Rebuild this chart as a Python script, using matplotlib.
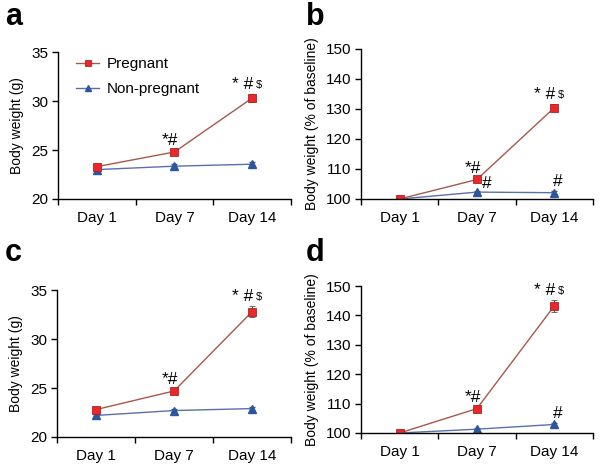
import matplotlib
matplotlib.use("Agg")
import matplotlib.pyplot as plt
from matplotlib.lines import Line2D

plt.rcParams["font.family"] = ["Liberation Sans", "DejaVu Sans"]

days = ["Day 1", "Day 7", "Day 14"]

# panel a: body weight (g)
a_preg = [23.3, 24.8, 30.3]
a_preg_err = [0.2, 0.2, 0.4]
a_non = [23.0, 23.35, 23.55]
a_non_err = [0.15, 0.2, 0.2]

# panel b: % of baseline
b_preg = [100.0, 106.5, 130.4]
b_preg_err = [0.3, 0.5, 1.2]
b_non = [100.0, 102.3, 102.1]
b_non_err = [0.2, 0.4, 0.4]

# panel c: body weight (g)
c_preg = [22.8, 24.7, 32.8]
c_preg_err = [0.2, 0.2, 0.6]
c_non = [22.2, 22.7, 22.9]
c_non_err = [0.15, 0.15, 0.2]

# panel d: % of baseline
d_preg = [100.0, 108.3, 143.2]
d_preg_err = [0.3, 0.6, 2.0]
d_non = [100.0, 101.3, 102.9]
d_non_err = [0.2, 0.3, 0.4]

# significance marks: (series, index, text)
a_marks = [("p", 1, "*#"), ("p", 2, "*#$")]
b_marks = [("p", 1, "*#"), ("p", 2, "*#$"), ("n", 1, "#r"), ("n", 2, "#")]
c_marks = [("p", 1, "*#"), ("p", 2, "*#$")]
d_marks = [("p", 1, "*#"), ("p", 2, "*#$"), ("n", 2, "#")]

PREG_FACE = "#e8282b"
PREG_EDGE = "#b02020"
PREG_LINE = "#a8584a"
NON_FACE = "#2d56a0"
NON_LINE = "#5b6fae"

fig = plt.figure(figsize=(6.02, 4.71), dpi=100)

boxes = [
    [0.0963, 0.5775, 0.387, 0.312],
    [0.5997, 0.5775, 0.385, 0.3185],
    [0.0947, 0.0722, 0.389, 0.312],
    [0.5997, 0.0807, 0.385, 0.312],
]
panels = [
    ("a", a_preg, a_preg_err, a_non, a_non_err, a_marks, (20, 35), [20, 25, 30, 35], "Body weight (g)"),
    ("b", b_preg, b_preg_err, b_non, b_non_err, b_marks, (100, 150), [100, 110, 120, 130, 140, 150], "Body weight (% of baseline)"),
    ("c", c_preg, c_preg_err, c_non, c_non_err, c_marks, (20, 35), [20, 25, 30, 35], "Body weight (g)"),
    ("d", d_preg, d_preg_err, d_non, d_non_err, d_marks, (100, 150), [100, 110, 120, 130, 140, 150], "Body weight (% of baseline)"),
]
letter_pos = [(0.008, 0.995), (0.508, 0.995), (0.008, 0.495), (0.508, 0.495)]

x = list(range(len(days)))

for box, panel, lp in zip(boxes, panels, letter_pos):
    letter, preg, preg_err, non, non_err, marks, ylim, yticks, ylabel = panel
    ax = fig.add_axes(box)

    ax.errorbar(x, non, yerr=non_err, color=NON_LINE, lw=1.0, marker="^",
                ms=6, mfc=NON_FACE, mec=NON_FACE, ecolor="#555555",
                elinewidth=0.8, capsize=2, zorder=3)
    ax.errorbar(x, preg, yerr=preg_err, color=PREG_LINE, lw=1.0, marker="s",
                ms=6, mfc=PREG_FACE, mec=PREG_EDGE, mew=0.6, ecolor="#555555",
                elinewidth=0.8, capsize=2, zorder=4)

    span = ylim[1] - ylim[0]
    for series, i, txt in marks:
        vals, errs = (preg, preg_err) if series == "p" else (non, non_err)
        y = vals[i] + errs[i] + span * 0.015
        if txt.endswith("$"):
            ax.text(x[i] + 0.02, y, "* #", ha="right", va="bottom", fontsize=12.5)
            ax.text(x[i] + 0.05, y + span * 0.012, "$", ha="left", va="bottom", fontsize=8)
        elif series == "p":
            ax.text(x[i] + 0.05, y, "*#", ha="right", va="bottom", fontsize=12.5)
        elif txt == "#r":
            # beside the marker, under the pregnant square
            ax.text(x[i] + 0.06, vals[i] + errs[i], "#", ha="left", va="bottom", fontsize=12.5)
        else:
            ax.text(x[i] - 0.02, y, "#", ha="left", va="bottom", fontsize=12.5)

    ax.set_xlim(-0.5, 2.5)
    ax.set_ylim(*ylim)
    ax.set_yticks(yticks)
    ax.set_xticks(x)
    ax.set_xticklabels(days)
    ax.tick_params(axis="x", which="major", length=0, pad=9, labelsize=11)
    ax.set_xticks([-0.5, 0.5, 1.5, 2.5], minor=True)
    ax.tick_params(axis="x", which="minor", length=4, width=1.0, direction="out")
    ax.tick_params(axis="y", length=4, width=1.0, labelsize=11, pad=3)
    ax.set_ylabel(ylabel, fontsize=10, labelpad=5)
    for side in ["top", "right"]:
        ax.spines[side].set_visible(False)
    for side in ["left", "bottom"]:
        ax.spines[side].set_linewidth(1.0)
    ax.spines["bottom"].set_zorder(5)

    if letter == "a":
        handles = [
            Line2D([], [], color=PREG_LINE, lw=1.0, marker="s", ms=5,
                   mfc=PREG_FACE, mec=PREG_EDGE, mew=0.6),
            Line2D([], [], color=NON_LINE, lw=1.0, marker="^", ms=5,
                   mfc=NON_FACE, mec=NON_FACE),
        ]
        ax.legend(handles, ["Pregnant", "Non-pregnant"], loc="upper left",
                  bbox_to_anchor=(0.02, 1.06), frameon=False, fontsize=11,
                  handlelength=1.5, labelspacing=0.75, handletextpad=0.5)

    fig.text(lp[0], lp[1], letter, fontsize=22, fontweight="bold", ha="left", va="top")

fig.savefig("out.png", dpi=100)
